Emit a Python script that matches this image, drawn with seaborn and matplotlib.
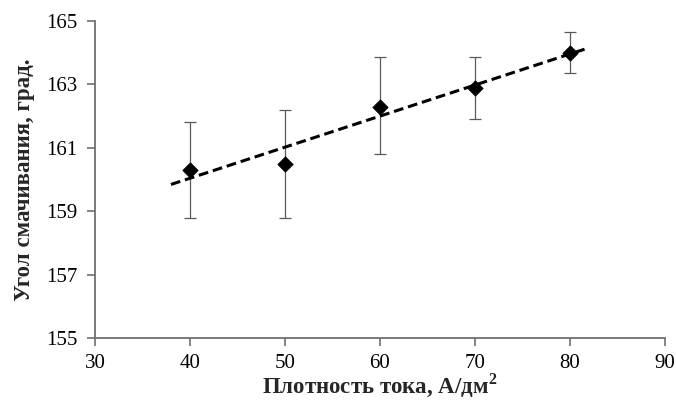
import numpy as np
import pandas as pd
import matplotlib
matplotlib.use("Agg")
import matplotlib.pyplot as plt
import seaborn as sns

# Data
current_density = [40, 50, 60, 70, 80]
contact_angle = [160.3, 160.5, 162.3, 162.9, 164.0]
err_low = [1.5, 1.7, 1.5, 1.0, 0.65]
err_high = [1.5, 1.7, 1.55, 0.95, 0.65]
trend_extend = 2  # trendline forecast forward/backward

x_ticks = [30, 40, 50, 60, 70, 80, 90]
y_ticks = [155, 157, 159, 161, 163, 165]
x_label = "Плотность тока, А/дм$^\\mathbf{2}$"
y_label = "Угол смачивания, град."

sns.set_theme(style="white")
plt.rcParams["font.family"] = ["Liberation Serif", "DejaVu Serif"]
plt.rcParams["mathtext.fontset"] = "custom"
plt.rcParams["mathtext.rm"] = "Liberation Serif"
plt.rcParams["mathtext.bf"] = "Liberation Serif:bold"

df = pd.DataFrame({"x": current_density, "y": contact_angle})

fig = plt.figure(figsize=(6.76, 4.04), dpi=100)
ax = fig.add_axes([0.1405, 0.1634, 0.8432, 0.7846])

axis_color = "#6f6f6f"

ax.errorbar(df["x"], df["y"], yerr=[err_low, err_high], fmt="none",
            ecolor="#5a5a5a", elinewidth=0.9, capsize=4, capthick=0.9, zorder=2)

# linear trendline
slope, intercept = np.polyfit(df["x"], df["y"], 1)
tx = np.array([min(current_density) - trend_extend, max(current_density) + trend_extend])
trend = pd.DataFrame({"x": tx, "y": slope * tx + intercept})
sns.lineplot(data=trend, x="x", y="y", ax=ax, color="black", linewidth=2.2,
             linestyle=(0, (3.2, 1.6)), zorder=3)

sns.scatterplot(data=df, x="x", y="y", ax=ax, marker="D", s=60, color="black",
                edgecolor="black", zorder=4)

ax.set_xlim(30, 90)
ax.set_ylim(155, 165)
ax.set_xticks(x_ticks)
ax.set_yticks(y_ticks)
ax.tick_params(axis="both", which="both", direction="out", length=5.5, width=1.2,
               color=axis_color, labelsize=15, labelcolor="black",
               bottom=True, left=True)
ax.tick_params(axis="x", pad=6)
ax.tick_params(axis="y", pad=7)
for side in ["top", "right"]:
    ax.spines[side].set_visible(False)
for side in ["left", "bottom"]:
    ax.spines[side].set_color(axis_color)
    ax.spines[side].set_linewidth(1.3)

ax.set_xlabel(x_label, fontsize=16.5, fontweight="bold", labelpad=-1)
ax.set_ylabel(y_label, fontsize=16.5, fontweight="bold", labelpad=8)

fig.savefig("out.png", dpi=100)
